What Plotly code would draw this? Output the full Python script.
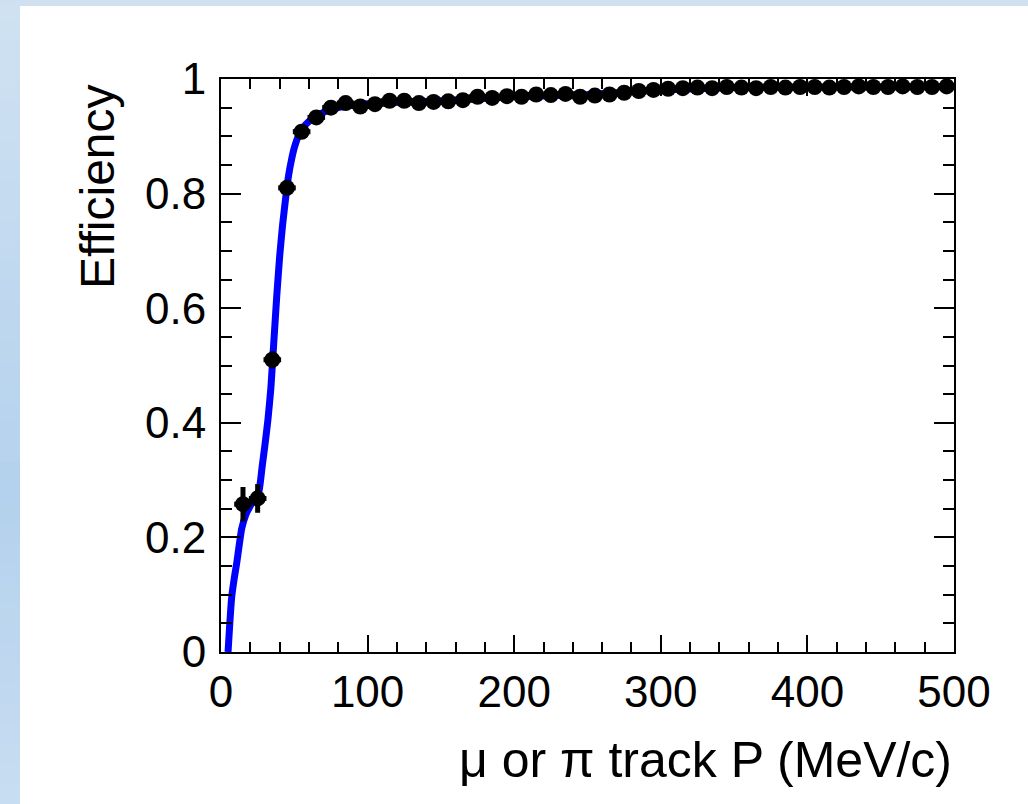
import plotly.graph_objects as go

# ---- data ----
p_mev = [15, 25, 35, 45, 55, 65, 75, 85, 95, 105, 115, 125, 135, 145, 155, 165, 175, 185, 195,
         205, 215, 225, 235, 245, 255, 265, 275, 285, 295, 305, 315, 325, 335, 345, 355, 365,
         375, 385, 395, 405, 415, 425, 435, 445, 455, 465, 475, 485, 495]
efficiency = [0.258, 0.268, 0.510, 0.810, 0.908, 0.933, 0.950, 0.958, 0.952, 0.956, 0.962, 0.962,
              0.958, 0.960, 0.961, 0.963, 0.969, 0.967, 0.970, 0.969, 0.973, 0.972, 0.974, 0.969,
              0.971, 0.973, 0.976, 0.979, 0.981, 0.983, 0.984, 0.985, 0.984, 0.986, 0.985, 0.984,
              0.986, 0.985, 0.986, 0.986, 0.985, 0.986, 0.987, 0.986, 0.986, 0.987, 0.986, 0.986,
              0.987]
eff_err = [0.030, 0.025, 0.015, 0.012, 0.010, 0.008, 0.006, 0.006, 0.006, 0.005, 0.005, 0.005,
           0.005, 0.005, 0.005, 0.005, 0.005, 0.005, 0.005, 0.005, 0.005, 0.005, 0.005, 0.005,
           0.005, 0.005, 0.005, 0.005, 0.005, 0.005, 0.005, 0.005, 0.005, 0.005, 0.005, 0.005,
           0.005, 0.005, 0.005, 0.005, 0.005, 0.005, 0.005, 0.005, 0.005, 0.005, 0.005, 0.005,
           0.005]
p_err = [6] * len(p_mev)

fit_p = [4.8, 6.0, 7.3, 9.0, 10.7, 12.5, 14.1, 17.0, 20.0, 23.0, 26.0, 28.0, 30.0, 32.0, 34.0,
         36.0, 38.0, 40.0, 42.0, 44.0, 46.0, 48.0, 50.0, 53.0, 56.0, 60.0, 65.0, 72.0, 80.0,
         90.0, 100.0, 150.0, 200.0, 250.0, 300.0, 350.0, 400.0, 450.0, 500.0]
fit_eff = [0.0, 0.050, 0.096, 0.128, 0.155, 0.188, 0.215, 0.240, 0.255, 0.267, 0.282, 0.322,
           0.362, 0.405, 0.460, 0.540, 0.620, 0.690, 0.745, 0.790, 0.830, 0.858, 0.880, 0.902,
           0.915, 0.926, 0.935, 0.944, 0.950, 0.954, 0.957, 0.962, 0.969, 0.973, 0.981, 0.985,
           0.986, 0.986, 0.987]

x_ticks = [0, 100, 200, 300, 400, 500]
y_ticks = [0, 0.2, 0.4, 0.6, 0.8, 1]
y_tick_text = ["0", "0.2", "0.4", "0.6", "0.8", "1"]

FONT = "Liberation Sans, Arial, Helvetica, sans-serif"

fig = go.Figure()
fig.add_trace(go.Scatter(x=fit_p, y=fit_eff, mode="lines",
                         line=dict(color="#0000ff", width=7, shape="spline", smoothing=0.4),
                         showlegend=False, hoverinfo="skip"))
fig.add_trace(go.Scatter(x=p_mev, y=efficiency, mode="markers",
                         marker=dict(color="black", size=16, symbol="circle"),
                         error_x=dict(type="data", array=p_err, color="black",
                                      thickness=5, width=0),
                         error_y=dict(type="data", array=eff_err, color="black",
                                      thickness=5, width=0),
                         showlegend=False))

L, R, T, B = 221, 74, 79, 152
W, H = 1028, 804
pw, ph = W - L - R, H - T - B

axis_common = dict(showline=True, linecolor="black", linewidth=2, mirror="ticks",
                   ticks="inside", tickwidth=2, tickcolor="black", showgrid=False,
                   zeroline=False,
                   tickfont=dict(family=FONT, size=44, color="black"))

fig.update_xaxes(range=[0, 500], tickvals=x_ticks, ticklen=17,
                 minor=dict(dtick=20, ticks="inside", ticklen=10, tickwidth=2,
                            tickcolor="black", showgrid=False),
                 **axis_common)
fig.update_yaxes(range=[0, 1], tickvals=y_ticks, ticktext=y_tick_text, ticklen=20,
                 ticklabelstandoff=4,
                 minor=dict(dtick=0.05, ticks="inside", ticklen=11, tickwidth=2,
                            tickcolor="black", showgrid=False),
                 **axis_common)

# slide-like background: vertical gradient strip on the left, thin strip on top
def mix(c1, c2, t):
    return "#%02x%02x%02x" % tuple(round(a + (b - a) * t) for a, b in zip(c1, c2))

top_c, mid_c, bot_c = (0xd0, 0xe2, 0xf2), (0xb4, 0xd1, 0xed), (0xc8, 0xdd, 0xf1)
n_bands = 40
for i in range(n_bands):
    ypix0 = H * i / n_bands
    ypix1 = H * (i + 1) / n_bands + 1
    frac = (i + 0.5) / n_bands
    if frac < 0.62:
        col = mix(top_c, mid_c, frac / 0.62)
    else:
        col = mix(mid_c, bot_c, (frac - 0.62) / 0.38)
    fig.add_shape(type="rect", xref="paper", yref="paper", layer="below",
                  x0=-L / pw, x1=(20 - L) / pw,
                  y0=(H - B - ypix1) / ph, y1=(H - B - ypix0) / ph,
                  fillcolor=col, line_width=0)
fig.add_shape(type="rect", xref="paper", yref="paper", layer="below",
              x0=-L / pw, x1=1 + R / pw, y0=1 + (T - 6) / ph, y1=1 + T / ph,
              fillcolor="#cfe1f1", line_width=0)

fig.add_annotation(text="Efficiency", xref="paper", yref="paper",
                   x=(97 - L) / pw, y=(H - B - 187) / ph, xanchor="center", yanchor="middle",
                   textangle=-90, showarrow=False,
                   font=dict(family=FONT, size=48, color="black"))
fig.add_annotation(text="\u03bc or \u03c0 track P (MeV/c)", xref="paper", yref="paper",
                   x=1.0, y=(H - B - 760) / ph, xanchor="right", yanchor="middle",
                   showarrow=False,
                   font=dict(family=FONT, size=50, color="black"))

fig.update_layout(width=W, height=H, margin=dict(l=L, r=R, t=T, b=B, pad=0),
                  paper_bgcolor="white", plot_bgcolor="white")

fig.write_html("out.html")
